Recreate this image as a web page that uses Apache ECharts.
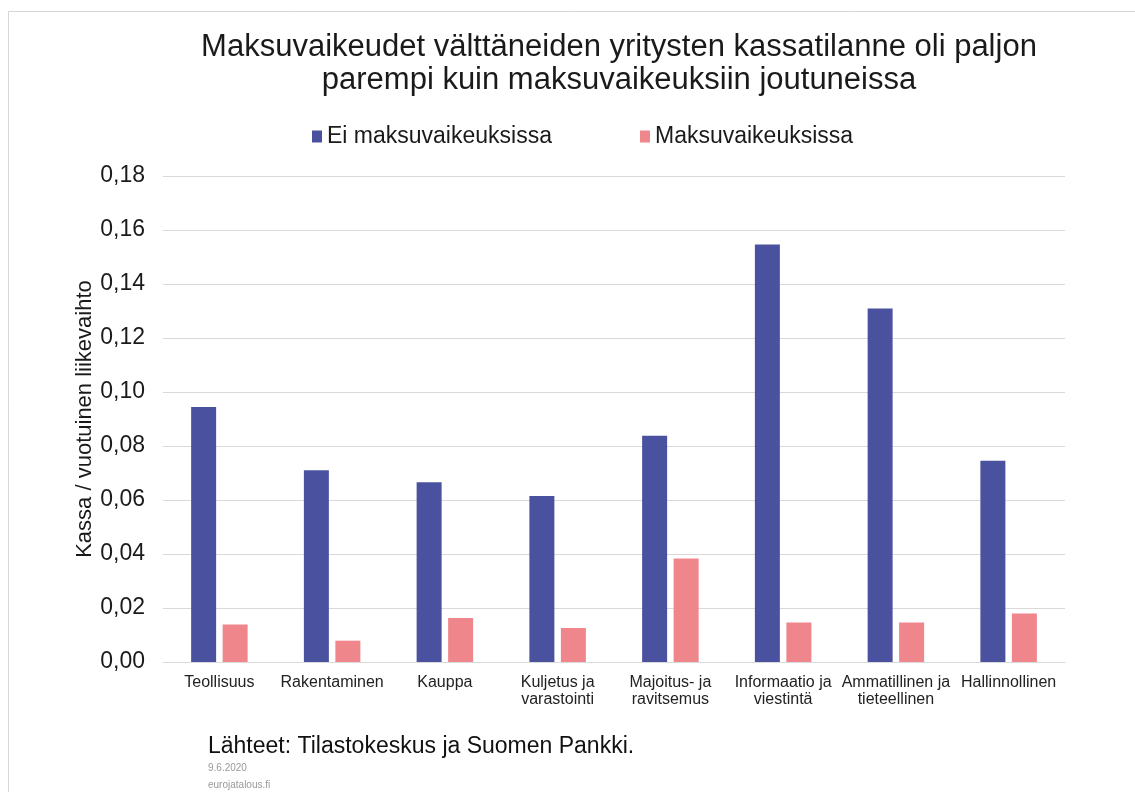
<!DOCTYPE html>
<html>
<head>
<meta charset="utf-8">
<script src="https://cdn.jsdelivr.net/npm/echarts@6/dist/echarts.min.js"></script>
<style>
  html, body { margin: 0; padding: 0; background: #fff; }
  #chart { width: 1135px; height: 792px; }
</style>
</head>
<body>
<div id="chart"></div>
<script>
var categories = ['Teollisuus', 'Rakentaminen', 'Kauppa', 'Kuljetus ja\nvarastointi', 'Majoitus- ja\nravitsemus', 'Informaatio ja\nviestintä', 'Ammatillinen ja\ntieteellinen', 'Hallinnollinen']
var eiMaksuvaikeuksissa = [0.0944, 0.0710, 0.0666, 0.0615, 0.0838, 0.1546, 0.1309, 0.0745]
var maksuvaikeuksissa = [0.0139, 0.0079, 0.0163, 0.0126, 0.0383, 0.0146, 0.0146, 0.0180]
var seriesNames = ['Ei maksuvaikeuksissa', 'Maksuvaikeuksissa']

var font = 'Liberation Sans, Arial, sans-serif'
var chart = echarts.init(document.getElementById('chart'))

var option = {
  backgroundColor: '#fff',
  textStyle: { fontFamily: font },
  title: {
    text: 'Maksuvaikeudet välttäneiden yritysten kassatilanne oli paljon\nparempi kuin maksuvaikeuksiin joutuneissa',
    left: 614,
    textAlign: 'center',
    top: 26,
    textStyle: { fontSize: 31, fontWeight: 'normal', color: '#1a1a1a', lineHeight: 33, fontFamily: font }
  },
  legend: {
    data: seriesNames,
    left: 307,
    top: 120,
    itemWidth: 10,
    itemHeight: 12,
    itemGap: 88,
    icon: 'rect',
    textStyle: { fontSize: 23, color: '#1a1a1a', fontFamily: font }
  },
  grid: { left: 163, right: 70, top: 176, bottom: 130 },
  xAxis: {
    type: 'category',
    data: categories,
    axisLine: { lineStyle: { color: '#d9d9d9' } },
    axisTick: { show: false },
    axisLabel: { interval: 0, fontSize: 16, color: '#222', lineHeight: 17, margin: 12, fontFamily: font }
  },
  yAxis: {
    type: 'value',
    min: 0,
    max: 0.18,
    interval: 0.02,
    name: 'Kassa / vuotuinen liikevaihto',
    nameLocation: 'middle',
    nameGap: 67,
    nameMoveOverlap: false,
    nameTextStyle: { fontSize: 22, color: '#1a1a1a', fontFamily: font },
    axisLabel: {
      fontSize: 23,
      color: '#1a1a1a',
      margin: 18,
      fontFamily: font,
      formatter: function (v) { return v.toFixed(2).replace('.', ',') }
    },
    splitLine: { lineStyle: { color: '#d9d9d9' } }
  },
  series: [
    {
      name: seriesNames[0],
      type: 'bar',
      data: eiMaksuvaikeuksissa,
      barWidth: 25,
      barGap: '26%',
      itemStyle: { color: '#4a52a0' }
    },
    {
      name: seriesNames[1],
      type: 'bar',
      data: maksuvaikeuksissa,
      barWidth: 25,
      itemStyle: { color: '#ef868c' }
    }
  ],
  graphic: [
    {
      type: 'polyline',
      shape: { points: [[8.5, 792], [8.5, 11.5], [1135, 11.5]] },
      style: { stroke: '#d6d6d6', lineWidth: 1, fill: null }
    },
    {
      type: 'text',
      left: 208,
      top: 735,
      style: { text: 'Lähteet: Tilastokeskus ja Suomen Pankki.', fontSize: 23, fill: '#111', fontFamily: font }
    },
    {
      type: 'text',
      left: 208,
      top: 763,
      style: { text: '9.6.2020', fontSize: 10, fill: '#999', fontFamily: font }
    },
    {
      type: 'text',
      left: 208,
      top: 780,
      style: { text: 'eurojatalous.fi', fontSize: 10, fill: '#999', fontFamily: font }
    }
  ]
}
chart.setOption(option)
</script>
</body>
</html>
